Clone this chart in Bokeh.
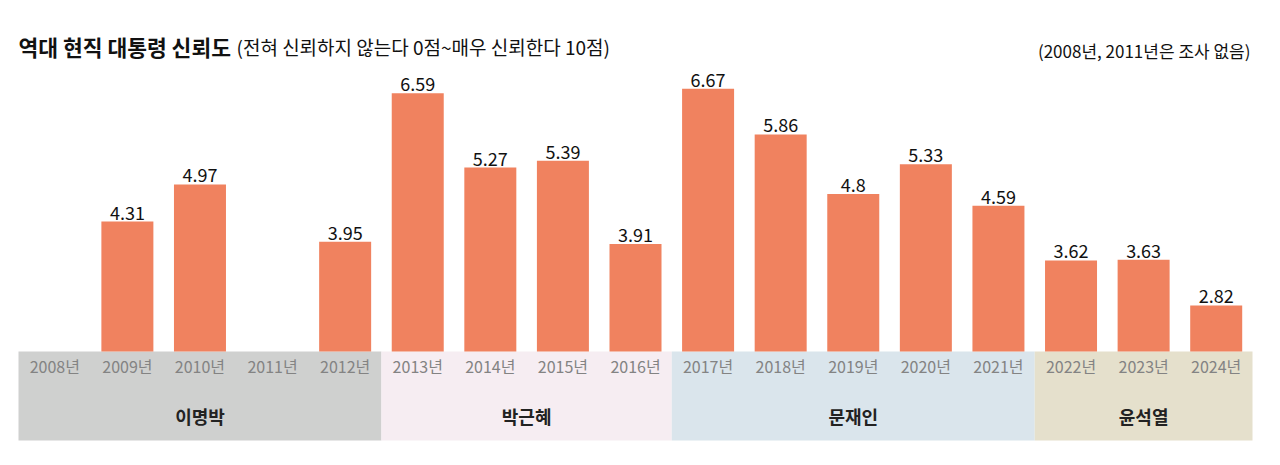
from bokeh.plotting import figure
from bokeh.models import Range1d, Label, ColumnDataSource
from bokeh.embed import file_html
from bokeh.resources import INLINE
from bokeh.core.properties import value

years = ["2008년", "2009년", "2010년", "2011년", "2012년", "2013년", "2014년", "2015년", "2016년",
         "2017년", "2018년", "2019년", "2020년", "2021년", "2022년", "2023년", "2024년"]
scores = [None, 4.31, 4.97, None, 3.95, 6.59, 5.27, 5.39, 3.91,
          6.67, 5.86, 4.8, 5.33, 4.59, 3.62, 3.63, 2.82]
presidents = ["이명박", "박근혜", "문재인", "윤석열"]
term_years = [5, 4, 5, 3]
band_colors = ["#CFD0CF", "#F6EDF2", "#DAE5EC", "#E5E0CC"]

FONT = "Noto Sans CJK KR"
W, H = 1264, 449
LEFT = 18          # pixel where the first slot starts
BASE_PX = 351      # pixel row of the bar baseline
slot_px = 1234 / 17
BASE = 2.0
px_per_unit = 56.25

x0 = -LEFT / slot_px
x1 = (W - LEFT) / slot_px
y_top = BASE + BASE_PX / px_per_unit
y_bot = BASE - (H - BASE_PX) / px_per_unit

p = figure(width=W, height=H, output_backend="svg", toolbar_location=None,
           x_range=Range1d(x0, x1), y_range=Range1d(y_bot, y_top),
           min_border=0, outline_line_color=None)
p.axis.visible = False
p.grid.visible = False
p.background_fill_color = "white"
p.border_fill_color = "white"

# bands
band_bottom = BASE - 89 / px_per_unit
lefts, rights, mids = [], [], []
start = 0
for n in term_years:
    lefts.append(start)
    rights.append(start + n)
    mids.append(start + n / 2)
    start += n
p.quad(left=lefts, right=rights, bottom=band_bottom, top=BASE,
       fill_color=band_colors, line_color=None)

p.text(x=mids, y=[BASE - 64 / px_per_unit] * len(mids), text=presidents,
       text_font=value(FONT), text_font_size="18px", text_font_style="bold",
       text_color="#222222", text_align="center", text_baseline="middle")

# year labels
xs = [i + 0.5 for i in range(len(years))]
p.text(x=xs, y=[BASE - 14 / px_per_unit] * len(xs), text=years,
       text_font=value(FONT), text_font_size="16px",
       text_color="#838383", text_align="center", text_baseline="middle")

# bars
bx = [x for x, s in zip(xs, scores) if s is not None]
bv = [s for s in scores if s is not None]
src = ColumnDataSource(dict(x=bx, top=bv, lab=[f"{v:g}" for v in bv]))
p.vbar(x="x", top="top", bottom=BASE, width=52 / slot_px, source=src,
       fill_color="#F0825F", line_color=None)
p.text(x="x", y="top", text="lab", source=src, y_offset=-2,
       text_font=value(FONT), text_font_size="18px",
       text_color="#111111", text_align="center", text_baseline="bottom")

# titles
p.add_layout(Label(x=18, y=H - 46, x_units="screen", y_units="screen",
                   text="역대 현직 대통령 신뢰도", text_font=FONT,
                   text_font_size="21.5px", text_font_style="bold",
                   text_color="#111111", text_baseline="middle"))
p.add_layout(Label(x=236, y=H - 46, x_units="screen", y_units="screen",
                   text="(전혀 신뢰하지 않는다 0점~매우 신뢰한다 10점)", text_font=FONT,
                   text_font_size="19px", text_color="#111111", text_baseline="middle"))
p.add_layout(Label(x=1250, y=H - 50, x_units="screen", y_units="screen",
                   text="(2008년, 2011년은 조사 없음)", text_font=FONT,
                   text_font_size="17px", text_color="#111111",
                   text_align="right", text_baseline="middle"))

open("out.html", "w").write(file_html(p, INLINE))
